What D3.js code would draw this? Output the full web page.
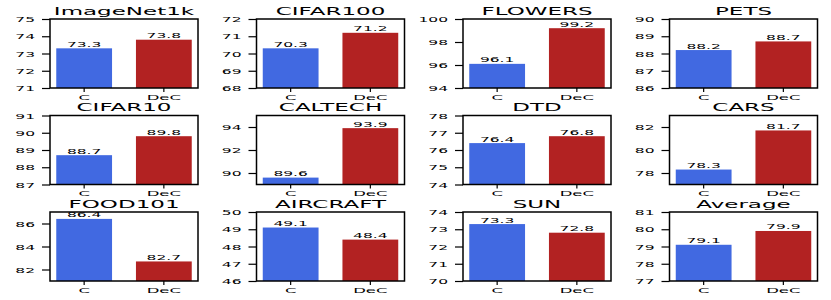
<!DOCTYPE html>
<html>
<head>
<meta charset="utf-8">
<script src="https://cdn.jsdelivr.net/npm/d3@7"></script>
<style>
  body { margin: 0; background: #fff; }
  text { font-family: "DejaVu Sans", sans-serif; fill: #000; }
</style>
</head>
<body>
<div class="chart"></div>
<script>
// data
const datasets = ['ImageNet1k', 'CIFAR100', 'FLOWERS', 'PETS',
                  'CIFAR10', 'CALTECH', 'DTD', 'CARS',
                  'FOOD101', 'AIRCRAFT', 'SUN', 'Average'];
const methods = ['C', 'DeC'];
const cScores = [73.3, 70.3, 96.1, 88.2, 88.7, 89.6, 76.4, 78.3, 86.4, 49.1, 73.3, 79.1];
const decScores = [73.8, 71.2, 99.2, 88.7, 89.8, 93.9, 76.8, 81.7, 82.7, 48.4, 72.8, 79.9];
const yMin = [71, 68, 94, 86, 87, 89, 74, 77, 81, 46, 70, 77];
const yMax = [75, 72, 100, 90, 91, 95, 78, 83, 87, 50, 74, 81];
const yTicks = [
  [71, 72, 73, 74, 75], [68, 69, 70, 71, 72], [94, 96, 98, 100], [86, 87, 88, 89, 90],
  [87, 88, 89, 90, 91], [90, 92, 94], [74, 75, 76, 77, 78], [78, 80, 82],
  [82, 84, 86], [46, 47, 48, 49, 50], [70, 71, 72, 73, 74], [77, 78, 79, 80, 81]
];
const colors = ['#4169e1', '#b22222'];

// layout (the source figure is squashed vertically, so text is too)
const W = 831, H = 300;
const colLeft = [50, 256.5, 463, 669.5];
const rowTop = [19, 115.5, 212];
const pw = 148, ph = 69;
const squash = 'scale(1,0.45)';

let svg = d3.select('.chart')
    .append('svg')
    .attr('width', W)
    .attr('height', H);

datasets.forEach((name, i) => {
    let g = svg.append('g')
        .attr('transform', `translate(${colLeft[i % 4]}, ${rowTop[Math.floor(i / 4)]})`);

    let x = d3.scaleBand()
        .domain(methods)
        .range([0, pw])
        .paddingInner(0.3)
        .paddingOuter(0.0785);
    let y = d3.scaleLinear()
        .domain([yMin[i], yMax[i]])
        .range([ph, 0]);

    let vals = [cScores[i], decScores[i]];

    // bars
    g.selectAll('rect.bar')
        .data(vals)
        .enter()
        .append('rect')
        .attr('class', 'bar')
        .attr('x', (d, j) => x(methods[j]))
        .attr('y', d => y(d))
        .attr('width', x.bandwidth())
        .attr('height', d => ph - y(d))
        .style('fill', (d, j) => colors[j]);

    // value labels
    g.selectAll('text.val')
        .data(vals)
        .enter()
        .append('text')
        .attr('class', 'val')
        .attr('transform', (d, j) => `translate(${x(methods[j]) + x.bandwidth() / 2}, ${y(d) - 1.5}) ${squash}`)
        .style('text-anchor', 'middle')
        .style('font-size', '15.5px')
        .text(d => d.toFixed(1));

    // y axis
    let yAxis = g.append('g')
        .call(d3.axisLeft(y).tickValues(yTicks[i]).tickFormat(d3.format('d')).tickSize(8).tickPadding(6));
    yAxis.select('.domain').remove();
    yAxis.selectAll('line').attr('stroke', '#000').attr('stroke-width', 1.2);
    yAxis.selectAll('text')
        .attr('x', null)
        .attr('dy', '0.36em')
        .attr('transform', `translate(-15,0) ${squash}`)
        .style('font-size', '15.5px')
        .attr('fill', '#000');

    // x axis
    let xAxis = g.append('g')
        .attr('transform', `translate(0, ${ph})`)
        .call(d3.axisBottom(x).tickSize(4));
    xAxis.select('.domain').remove();
    xAxis.selectAll('line').attr('stroke', '#000').attr('stroke-width', 1.2);
    xAxis.selectAll('text')
        .attr('y', null)
        .attr('dy', null)
        .attr('transform', `translate(0,11.5) ${squash}`)
        .style('font-size', '16.5px')
        .attr('fill', '#000');

    // frame
    g.append('rect')
        .attr('width', pw)
        .attr('height', ph)
        .attr('fill', 'none')
        .attr('stroke', '#000')
        .attr('stroke-width', 1.5);

    // title
    g.append('text')
        .attr('transform', `translate(${pw / 2}, -4.5) ${squash}`)
        .style('text-anchor', 'middle')
        .style('font-size', '23px')
        .text(name);
});
</script>
</body>
</html>
